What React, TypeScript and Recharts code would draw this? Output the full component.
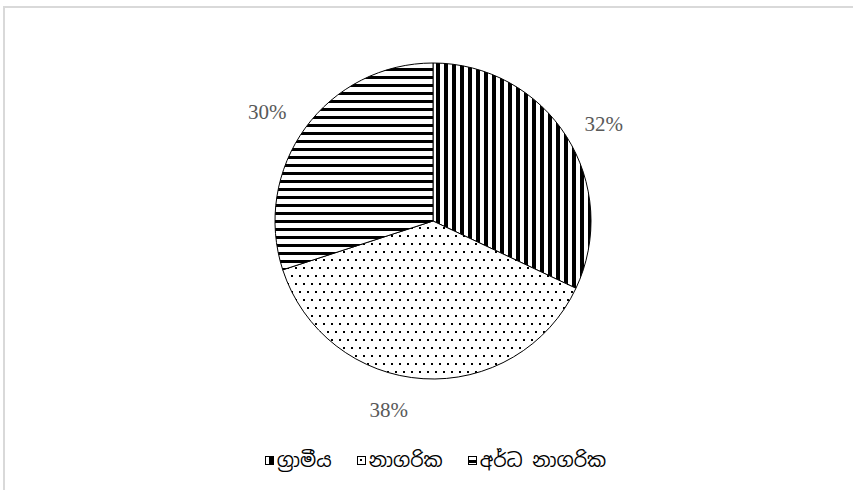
import React from "react";
import { PieChart, Pie, Cell, Legend } from "recharts";

const categories = ["ග්‍රාමීය", "නාගරික", "අර්ධ නාගරික"];
const values = [32, 38, 30];
const patternIds = ["pVert", "pDots", "pHoriz"];

const data = categories.map((name, i) => ({ name, value: values[i] }));

const RAD = Math.PI / 180;
const nudges = [
  [6, 7],
  [-32, -6],
  [-8, 6],
];

const PatternDefs = ({ suffix }: { suffix: string }) => (
  <defs>
    <pattern id={"pVert" + suffix} patternUnits="userSpaceOnUse" width="8" height="8">
      <rect x="0" y="0" width="8" height="8" fill="#fff" />
      <rect x="4" y="0" width="4" height="8" fill="#000" />
    </pattern>
    <pattern id={"pHoriz" + suffix} patternUnits="userSpaceOnUse" width="8" height="8">
      <rect x="0" y="0" width="8" height="8" fill="#fff" />
      <rect x="0" y="4" width="8" height="3" fill="#000" />
    </pattern>
    <pattern id={"pDots" + suffix} patternUnits="userSpaceOnUse" width="8" height="16">
      <rect x="0" y="0" width="8" height="16" fill="#fff" />
      <rect x="3" y="3" width="2" height="2" fill="#000" />
      <rect x="7" y="11" width="2" height="2" fill="#000" />
      <rect x="-1" y="11" width="2" height="2" fill="#000" />
    </pattern>
  </defs>
);

const renderLabel = (props: any) => {
  const { cx, cy, midAngle, outerRadius, value, index } = props;
  const r = outerRadius + 37;
  const x = cx + r * Math.cos(-midAngle * RAD) + nudges[index][0];
  const y = cy + r * Math.sin(-midAngle * RAD) + nudges[index][1];
  return (
    <text
      x={x}
      y={y}
      fill="#595959"
      textAnchor="middle"
      dominantBaseline="central"
      fontFamily="'Liberation Serif', 'Times New Roman', serif"
      fontSize={21}
    >
      {`${value}%`}
    </text>
  );
};

const renderLegend = () => (
  <div
    style={{
      display: "flex",
      justifyContent: "center",
      alignItems: "center",
      gap: 25,
      paddingLeft: 18,
      boxSizing: "border-box",
      fontFamily: "'Noto Sans Sinhala', 'Iskoola Pota', 'Noto Sans', sans-serif",
      fontSize: 19,
      color: "#000",
    }}
  >
    {categories.map((c, i) => (
      <span key={c} style={{ display: "inline-flex", alignItems: "center", gap: 3 }}>
        <svg width={9} height={9} style={{ display: "block" }}>
          <PatternDefs suffix={"L" + i} />
          <rect x={0.5} y={0.5} width={8} height={8} fill={`url(#${patternIds[i]}L${i})`} stroke="#000" strokeWidth={1} />
        </svg>
        <span>{c}</span>
      </span>
    ))}
  </div>
);

export default function App() {
  return (
    <div style={{ position: "absolute", left: 0, top: 0, width: 853, height: 490, background: "#fff", overflow: "hidden" }}>
      <div
        style={{
          position: "absolute",
          left: 3,
          top: 6,
          width: 900,
          height: 520,
          borderLeft: "2px solid #d9d9d9",
          borderTop: "2px solid #d9d9d9",
          boxSizing: "border-box",
        }}
      />
      <div style={{ position: "absolute", left: 0, top: 0 }}>
        <PieChart width={853} height={490} margin={{ top: 0, right: 0, bottom: 0, left: 0 }}>
          <PatternDefs suffix="" />
          <Pie
            data={data}
            dataKey="value"
            nameKey="name"
            cx={433}
            cy={221}
            outerRadius={158}
            startAngle={90}
            endAngle={-270}
            stroke="#000"
            strokeWidth={1}
            label={renderLabel}
            labelLine={false}
            isAnimationActive={false}
          >
            {data.map((d, i) => (
              <Cell key={d.name} fill={`url(#${patternIds[i]})`} />
            ))}
          </Pie>
          <Legend
            content={renderLegend}
            wrapperStyle={{ position: "absolute", left: 0, top: 448, width: 853 }}
          />
        </PieChart>
      </div>
    </div>
  );
}
